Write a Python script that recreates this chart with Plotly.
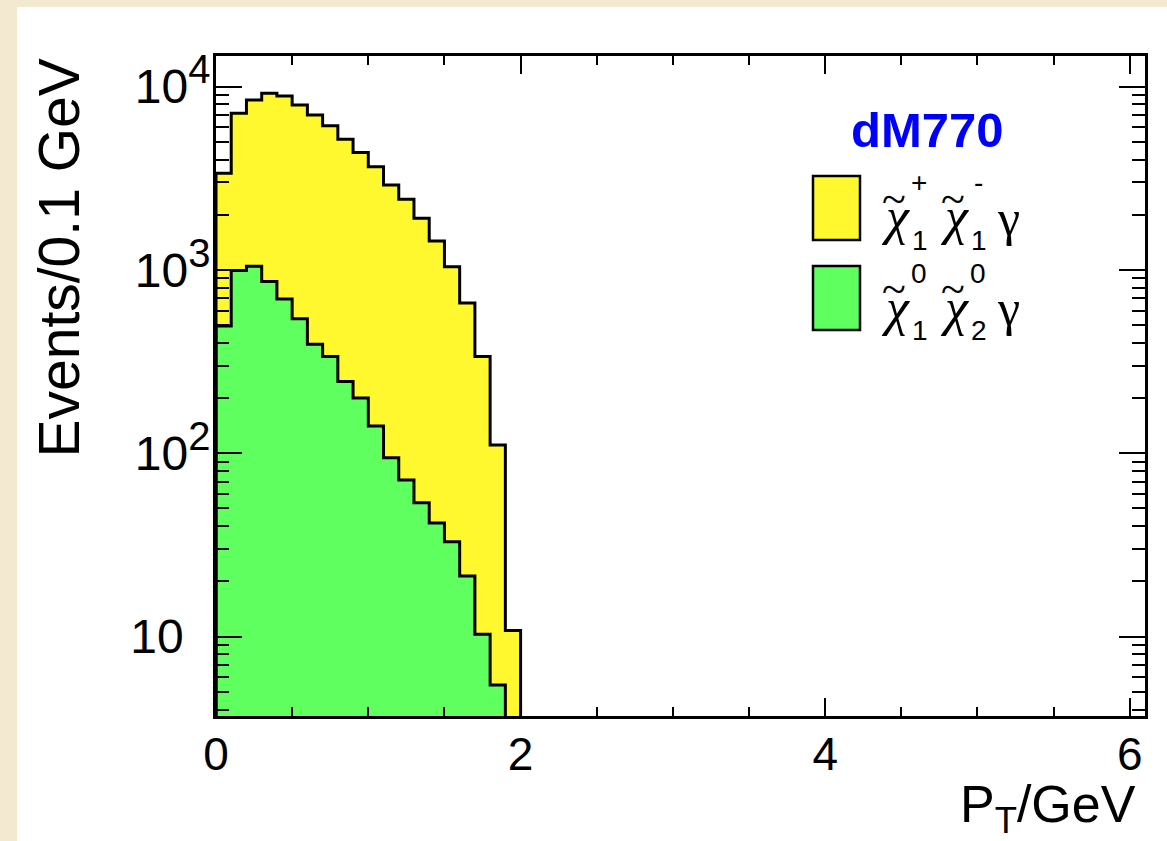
import math
import plotly.graph_objects as go

# ---------------- data ----------------
bin_low = [0.0, 0.1, 0.2, 0.3, 0.4, 0.5, 0.6, 0.7, 0.8, 0.9,
           1.0, 1.1, 1.2, 1.3, 1.4, 1.5, 1.6, 1.7, 1.8, 1.9]
bin_width = 0.1
# top of the stack (chargino pair + neutralino pair), events / 0.1 GeV
stack_total = [3370, 7160, 8460, 9200, 8890, 7940, 7010, 6110, 5170, 4370,
               3660, 2910, 2430, 1916, 1440, 1042, 661, 337, 111, 10.8]
# neutralino pair (green), events / 0.1 GeV
neutralino = [495, 994, 1047, 864, 695, 541, 393, 337, 246, 200,
              141, 94.6, 71.5, 53.7, 41.7, 32.9, 21.4, 10.3, 5.45, 0]

x_ticks = [0, 2, 4, 6]
y_tickvals = [10, 100, 1000, 10000]
SUP = "<sup><span style='font-size:40px'>{}</span></sup>"
y_ticktext = ["10\u2007", "10" + SUP.format(2), "10" + SUP.format(3),
              "10" + SUP.format(4)]

x_range = [0, 6.1]
y_range = [0.567, 4.167]  # log10

YELLOW = "#FFF82E"
GREEN = "#60FF60"
BEIGE = "#F3E9D1"

# ---------------- layout geometry ----------------
W, H = 1167, 841
L, R, T, B = 216, 22, 56, 125
PW, PH = W - L - R, H - T - B


def px(x):
    return (x - L) / PW


def py(y):
    return (H - B - y) / PH


centers = [b + bin_width / 2 for b in bin_low]
floor_val = 10 ** y_range[0]


def outline(values):
    n = len(values)
    while n > 0 and values[n - 1] <= 0:
        n -= 1
    xs = [bin_low[0]] + bin_low[:n] + [bin_low[n - 1] + bin_width] * 2
    ys = [floor_val] + list(values[:n]) + [values[n - 1], floor_val]
    return xs, ys


fig = go.Figure()
fig.add_trace(go.Bar(x=centers, y=stack_total, width=bin_width,
                     marker=dict(color=YELLOW, line=dict(width=0)),
                     showlegend=False, hoverinfo="skip"))
fig.add_trace(go.Bar(x=centers, y=[v if v > 0 else None for v in neutralino],
                     width=bin_width,
                     marker=dict(color=GREEN, line=dict(width=0)),
                     showlegend=False, hoverinfo="skip"))
for vals in (stack_total, neutralino):
    xs, ys = outline(vals)
    fig.add_trace(go.Scatter(x=xs, y=ys, mode="lines", line_shape="hv",
                             line=dict(color="black", width=3),
                             showlegend=False, hoverinfo="skip"))

minor_y = [k * 10 ** e for e in range(0, 5) for k in range(2, 10)
           if y_range[0] <= math.log10(k * 10 ** e) <= y_range[1]]

font_sans = "Liberation Sans, Arial, Helvetica, sans-serif"
font_serif = "Liberation Serif, Times New Roman, serif"

fig.update_layout(
    width=W, height=H,
    margin=dict(l=L, r=R, t=T, b=B, pad=0),
    paper_bgcolor=BEIGE, plot_bgcolor="white",
    barmode="overlay", bargap=0,
    showlegend=False,
    xaxis=dict(range=x_range, tickmode="array", tickvals=x_ticks,
               ticktext=[str(v) for v in x_ticks],
               ticks="inside", ticklen=18, tickwidth=2, tickcolor="black",
               minor=dict(tickmode="linear", tick0=0, dtick=0.5, ticks="inside",
                          ticklen=9, tickwidth=2, tickcolor="black"),
               showline=True, linewidth=3, linecolor="black", mirror="allticks",
               showgrid=False, zeroline=False, ticklabelstandoff=-4,
               tickfont=dict(family=font_sans, size=46, color="black")),
    yaxis=dict(type="log", range=y_range, tickmode="array",
               tickvals=y_tickvals, ticktext=y_ticktext,
               ticks="inside", ticklen=26, tickwidth=2, tickcolor="black",
               minor=dict(tickmode="array", tickvals=minor_y, ticks="inside",
                          ticklen=13, tickwidth=2, tickcolor="black"),
               showline=True, linewidth=3, linecolor="black", mirror="allticks",
               showgrid=False, zeroline=False, ticklabelstandoff=-7,
               tickfont=dict(family=font_sans, size=48, color="black")),
)

shapes = [
    dict(type="rect", xref="paper", yref="paper", layer="below",
         x0=px(17), x1=px(W + 20), y0=py(H + 20), y1=py(7),
         fillcolor="white", line=dict(width=0)),
    dict(type="rect", xref="paper", yref="paper",
         x0=px(813), x1=px(860), y0=py(240), y1=py(176),
         fillcolor=YELLOW, line=dict(color="black", width=2.5)),
    dict(type="rect", xref="paper", yref="paper",
         x0=px(813), x1=px(860), y0=py(330), y1=py(266),
         fillcolor=GREEN, line=dict(color="black", width=2.5)),
]
fig.update_layout(shapes=shapes)

ann = []


def text(x, y, s, size, family=font_sans, color="black", xanchor="center",
         yanchor="middle", angle=0, bold=False):
    ann.append(dict(x=px(x), y=py(y), xref="paper", yref="paper", text=s,
                    showarrow=False, xanchor=xanchor, yanchor=yanchor,
                    textangle=angle,
                    font=dict(family=family, size=size, color=color,
                              weight="bold" if bold else "normal")))


# axis titles
text(58, 57, "Events/0.1 GeV", 57, xanchor="center", yanchor="top", angle=-90)
text(1138, 808, "P<sub>T</sub>/GeV", 52, xanchor="right")
# label
text(927, 130, "dM770", 49, color="#0000FF", bold=True)

# legend entry texts
for dy, sups, subs in ((0, ("+", "-"), ("1", "1")), (90, ("0", "0"), ("1", "2"))):
    for cx, sup, sub in ((895, sups[0], subs[0]), (954, sups[1], subs[1])):
        text(cx, 217 + dy, "<i>χ</i>", 52, family=font_serif)
        text(cx - 1, 199 + dy, "~", 44, family=font_serif)
        text(cx + 24, 183 + dy, sup, 28)
        text(cx + 25, 240 + dy, sub, 28)
    text(1008, 218 + dy, "γ", 50, family=font_serif)

fig.update_layout(annotations=ann)

fig.write_html("out.html", config={"displayModeBar": False},
               post_script="document.body.style.margin='0px';"
                           "document.body.style.overflow='hidden';")
